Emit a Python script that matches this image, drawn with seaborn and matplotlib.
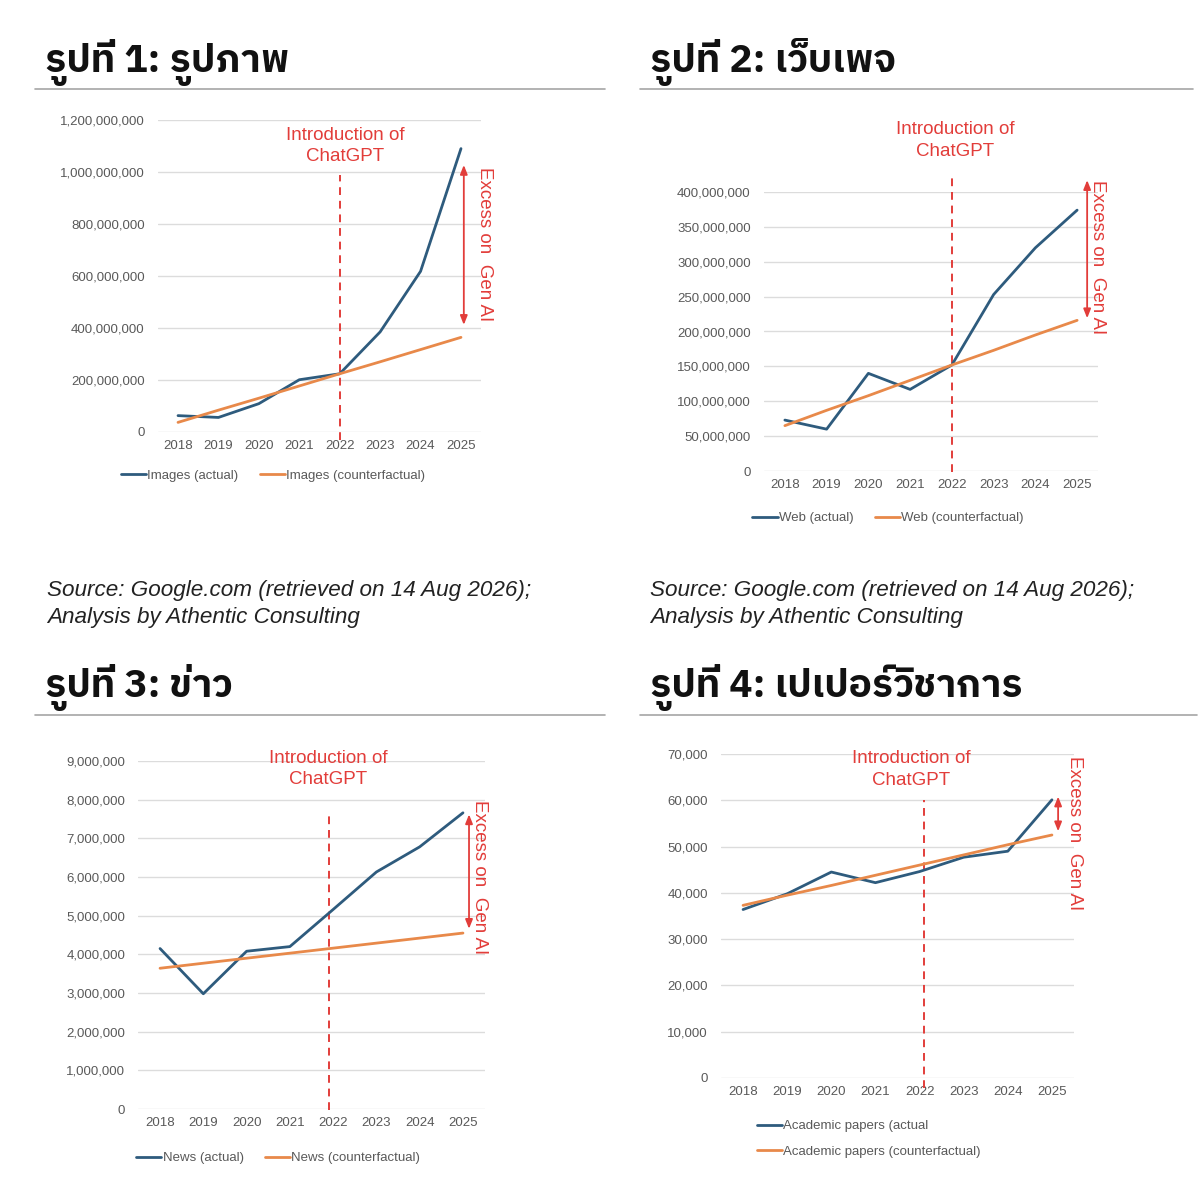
import matplotlib
matplotlib.use("Agg")
import matplotlib.pyplot as plt
from matplotlib import font_manager as fm
from matplotlib.lines import Line2D
import numpy as np
import pandas as pd
import seaborn as sns

# ---------------- data ----------------
years = [2018, 2019, 2020, 2021, 2022, 2023, 2024, 2025]

images_actual = [63e6, 56e6, 109e6, 201e6, 224e6, 385e6, 618e6, 1090e6]
images_counterfactual = [37e6, 84e6, 130e6, 177e6, 224e6, 270e6, 317e6, 364e6]

web_actual = [73e6, 60e6, 140e6, 117e6, 152e6, 253e6, 320e6, 374e6]
web_counterfactual = [65e6, 87e6, 108e6, 130e6, 152e6, 173e6, 195e6, 216e6]

news_actual = [4.15e6, 2.98e6, 4.08e6, 4.20e6, 5.16e6, 6.13e6, 6.78e6, 7.66e6]
news_counterfactual = [3.64e6, 3.77e6, 3.90e6, 4.03e6, 4.16e6, 4.29e6, 4.42e6, 4.55e6]

papers_actual = [36400, 39800, 44500, 42200, 44600, 47700, 49000, 60100]
papers_counterfactual = [37300, 39500, 41600, 43800, 46000, 48200, 50400, 52500]

titles = ["รูปที่ 1: รูปภาพ", "รูปที่ 2: เว็บเพจ", "รูปที่ 3: ข่าว", "รูปที่ 4: เปเปอร์วิชาการ"]
legend_labels = [
    ["Images (actual)", "Images (counterfactual)"],
    ["Web (actual)", "Web (counterfactual)"],
    ["News (actual)", "News (counterfactual)"],
    ["Academic papers (actual", "Academic papers (counterfactual)"],
]
y_ticks = [
    [0, 200e6, 400e6, 600e6, 800e6, 1000e6, 1200e6],
    [0, 50e6, 100e6, 150e6, 200e6, 250e6, 300e6, 350e6, 400e6],
    [0, 1e6, 2e6, 3e6, 4e6, 5e6, 6e6, 7e6, 8e6, 9e6],
    [0, 10000, 20000, 30000, 40000, 50000, 60000, 70000],
]
source_lines = ["Source: Google.com (retrieved on 14 Aug 2026);", "Analysis by Athentic Consulting"]
intro_text = "Introduction of\nChatGPT"
excess_text = "Excess on  Gen AI"

# ---------------- fonts ----------------
sns.set_theme(style="white")


def find_thai_family():
    names = sorted({f.name for f in fm.fontManager.ttflist if "thai" in f.name.lower()})
    for n in names:
        if "sans" in n.lower() and "looped" not in n.lower() and "ui" not in n.lower():
            return n
    if names:
        return names[0]
    try:
        from fontTools.ttLib import TTFont
    except Exception:
        return None
    for f in fm.fontManager.ttflist:
        try:
            if f.fname.lower().endswith((".ttc", ".otc")):
                tt = TTFont(f.fname, fontNumber=0, lazy=True)
            else:
                tt = TTFont(f.fname, lazy=True)
            cmap = tt.getBestCmap()
            if cmap and ord("ร") in cmap and ord("ู") in cmap:
                return f.name
        except Exception:
            continue
    return None


thai = find_thai_family()
title_family = ([thai] if thai else []) + ["DejaVu Sans"]
base_family = ["Liberation Sans", "DejaVu Sans"]
plt.rcParams["font.family"] = base_family

W, H = 1200, 1193
fig = plt.figure(figsize=(W / 100, H / 100), dpi=100)
fig.patch.set_facecolor("white")

BLUE = "#2e5b7d"
ORANGE = "#e8894a"
RED = "#e23d3a"
GRID = "#dcdcdc"
TICK = "#595959"

panels = [
    dict(actual=images_actual, cf=images_counterfactual, box=(157.8, 481.2, 120, 432),
         vx=2022.0, vtop=988e6, vbot=-31e6, ix=2022.13, iy=1100e6,
         ax_=2025.07, a_top=1027e6, a_bot=412e6, ex=2025.57, ey=723e6,
         leg=("center", 273, 476, 2)),
    dict(actual=web_actual, cf=web_counterfactual, box=(764.0, 1098.0, 192, 471),
         vx=2022.0, vtop=420e6, vbot=-1e6, ix=2022.08, iy=474e6,
         ax_=2025.24, a_top=417e6, a_bot=219e6, ex=2025.48, ey=307e6,
         leg=("center", 888, 518, 2)),
    dict(actual=news_actual, cf=news_counterfactual, box=(138.4, 484.6, 761, 1109),
         vx=2021.9, vtop=7.67e6, vbot=-0.03e6, ix=2021.88, iy=8.79e6,
         ax_=2025.14, a_top=7.62e6, a_bot=4.66e6, ex=2025.39, ey=6.0e6,
         leg=("center", 278, 1158, 2)),
    dict(actual=papers_actual, cf=papers_counterfactual, box=(721.0, 1074.0, 754, 1078),
         vx=2022.1, vtop=60000, vbot=-2200, ix=2021.81, iy=66700,
         ax_=2025.14, a_top=60800, a_bot=53300, ex=2025.5, ey=52900,
         leg=("center left", 757, 1139, 1)),
]

for i, p in enumerate(panels):
    l, r, t, b = p["box"]
    ax = fig.add_axes([l / W, 1 - b / H, (r - l) / W, (b - t) / H])
    df = pd.DataFrame({
        "year": years * 2,
        "value": list(p["actual"]) + list(p["cf"]),
        "series": [legend_labels[i][0]] * len(years) + [legend_labels[i][1]] * len(years),
    })
    sns.lineplot(data=df, x="year", y="value", hue="series",
                 palette=[BLUE, ORANGE], linewidth=2.0, ax=ax, legend=False,
                 hue_order=legend_labels[i])
    ax.set_xlim(2017.5, 2025.5)
    yt = y_ticks[i]
    ax.set_ylim(yt[0], yt[-1])
    ax.set_yticks(yt)
    ax.set_yticklabels([f"{v:,.0f}" for v in yt])
    ax.set_xticks(years)
    ax.set_xticklabels([str(y) for y in years])
    ax.set_xlabel("")
    ax.set_ylabel("")
    ax.yaxis.grid(True, color=GRID, linewidth=1.0)
    ax.xaxis.grid(False)
    ax.set_axisbelow(True)
    for s in ax.spines.values():
        s.set_visible(False)
    ax.tick_params(axis="y", length=0, pad=9.5, labelsize=9.5, labelcolor=TICK)
    ax.tick_params(axis="x", length=0, pad=6, labelsize=9.5, labelcolor=TICK)
    ax.set_facecolor("none")

    # vertical dashed line
    ax.plot([p["vx"], p["vx"]], [p["vbot"], p["vtop"]], color=RED, linewidth=1.4,
            linestyle=(0, (4, 3)), clip_on=False, zorder=1)
    # intro text
    ax.text(p["ix"], p["iy"], intro_text, color=RED, fontsize=13.5, ha="center",
            va="center", linespacing=1.35, clip_on=False)
    # arrow
    ax.annotate("", xy=(p["ax_"], p["a_top"]), xytext=(p["ax_"], p["a_bot"]),
                arrowprops=dict(arrowstyle="<|-|>,head_length=0.45,head_width=0.18",
                                color=RED, lw=1.3, shrinkA=0, shrinkB=0),
                annotation_clip=False)
    ax.text(p["ex"], p["ey"], excess_text, color=RED, fontsize=13.5, ha="center",
            va="center", rotation=-90, clip_on=False)

    # legend
    loc, lx, ly, ncol = p["leg"]
    handles = [Line2D([], [], color=BLUE, lw=2.0), Line2D([], [], color=ORANGE, lw=2.0)]
    ax.legend(handles, legend_labels[i], loc=loc, bbox_to_anchor=(lx / W, 1 - ly / H),
              bbox_transform=fig.transFigure, ncol=ncol, frameon=False,
              handlelength=1.9, handletextpad=0.1, columnspacing=1.6,
              borderpad=0, borderaxespad=0, labelspacing=1.0,
              prop=dict(size=9.5), labelcolor=TICK)

# titles and separators
title_pos = [(45, 72), (650, 72), (45, 697), (650, 697)]
sep = [(35, 605, 89), (640, 1193, 89), (35, 605, 715), (640, 1197, 715)]
for (tx, ty), title in zip(title_pos, titles):
    fig.text(tx / W, 1 - ty / H, title, fontsize=28, fontweight="heavy",
             family=title_family, color="#111111", ha="left", va="baseline")
for x0, x1, y in sep:
    fig.add_artist(Line2D([x0 / W, x1 / W], [1 - y / H, 1 - y / H],
                          transform=fig.transFigure, color="#a6a6a6", lw=1.2))

# source notes
for sx in (47, 650):
    for k, line in enumerate(source_lines):
        fig.text(sx / W, 1 - (590 + 27 * k) / H, line, fontsize=16.2, style="italic",
                 color="#222222", ha="left", va="center")

fig.savefig("out.png", dpi=100, facecolor="white")
